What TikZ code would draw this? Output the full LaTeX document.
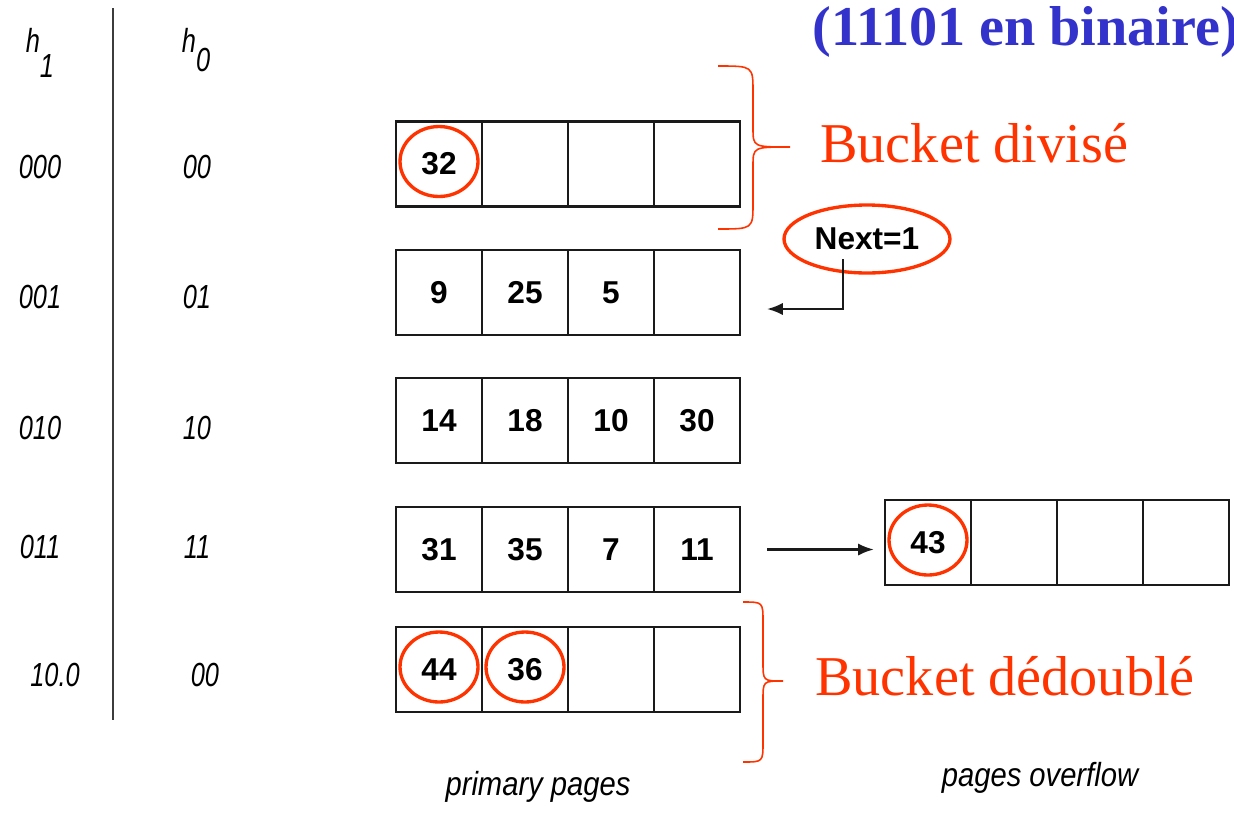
\documentclass[tikz,border=0pt]{standalone}
\usepackage{fontspec}
\setmainfont{Liberation Serif}
\setsansfont{Liberation Sans}
\usepackage{tikz}
\usetikzlibrary{shapes.geometric, arrows.meta, positioning}
\definecolor{hashred}  {HTML}{FF3300}
\definecolor{hashblue} {HTML}{3333CC}
\definecolor{gridline} {HTML}{1A1A1A}
\tikzset{
  cell/.style={
    rectangle, draw=gridline, line width=1.3pt,
    minimum width=1.72cm, minimum height=1.7cm, inner sep=0pt,
    font=\sffamily\bfseries\fontsize{18}{18}\selectfont
  },
  ring/.style={
    ellipse, draw=hashred, line width=1.9pt,
    minimum width=1.56cm, minimum height=1.4cm, inner sep=0pt
  },
  hashlbl/.style={
    font=\sffamily\itshape\fontsize{19}{19}\selectfont,
    xscale=0.76, inner sep=0pt
  },
  bigtxt/.style={font=\fontsize{32}{32}\selectfont, text=hashred, inner sep=0pt},
  accolade/.style={draw=hashred, line width=0.9pt},
  ptr/.style={-{Latex[length=9pt,width=7pt]}, line width=1.3pt, color=gridline}
}

\begin{document}
\begin{tikzpicture}[x=0.02cm, y=-0.02cm]
  \clip (0,0) rectangle (1234,812);

  % column headers
  \node[hashlbl, anchor=base] (h1) at (40,52) {h\raisebox{-14.7pt}{1}};
  \node[hashlbl, anchor=base] (h0) at (196,52) {h\raisebox{-11.3pt}{0}};
  \draw[line width=1.5pt, color=gridline!85] (113,8) -- (113,720);

  \foreach \yy/\a/\ax/\b/\bx [count=\i] in {167/000/40/00/197, 297/001/40/01/197,
      428/010/40/10/197, 547/011/40/11/197, 675/10.0/55/00/205}{
    \node[hashlbl] (bin\i) at (\ax,\yy) {\a};
    \node[hashlbl] (low\i) at (\bx,\yy) {\b};
  }

  % primary pages
  \foreach \r/\yy/\vals in {0/164/{32,{},{},{}}, 1/292.5/{9,25,5,{}},
      2/420.5/{14,18,10,30}, 3/549.5/{31,35,7,11}, 4/669.5/{44,36,{},{}}}{
    \foreach \v [count=\c] in \vals {
      \node[cell] (b\r-\c) at ({396+86*(\c-0.5)},\yy) {\v};
    }
  }

  % overflow page
  \foreach \v [count=\c] in {43,{},{},{}}{
    \node[cell] (ov-\c) at ({885+86*(\c-0.5)},542.5) {\v};
  }

  \foreach \n in {b0-1, b4-1, b4-2, ov-1}{
    \node[ring, yshift=0.05cm] (ring\n) at (\n) {};
  }

  % next pointer
  \node[ring, minimum width=3.32cm, minimum height=1.36cm,
    font=\sffamily\bfseries\fontsize{18}{18}\selectfont] (next) at (867,239) {Next=1};
  \coordinate (nexthead) at (767,309);
  \draw[ptr] ([xshift=-0.48cm,yshift=-0.4cm]next.center) |- (nexthead);

  \draw[ptr, shorten <=0.52cm, shorten >=0.2cm] (b3-4.east) -- (b3-4.east -| ov-1.west);

  % braces
  \draw[accolade] (718,66) .. controls (753,66) .. (753,92) -- (753,128)
    .. controls (753,147) .. (790,147) .. controls (753,147) .. (753,166)
    -- (753,203) .. controls (753,229) .. (718,229);
  \draw[accolade] (743,602) .. controls (763,602) .. (763,622) -- (763,662)
    .. controls (763,681) .. (783,681) .. controls (763,681) .. (763,700)
    -- (763,742) .. controls (763,762) .. (743,762);

  \node[bigtxt, anchor=base west] (divise) at (820,162) {Bucket divisé};
  \node[bigtxt, anchor=base west] (dedouble) at (815,695) {Bucket dédoublé};
  \node[bigtxt, text=hashblue, font=\bfseries\fontsize{32}{32}\selectfont,
    anchor=base west] (binaire) at (812,45) {(11101 en binaire)};

  \node[hashlbl, xscale=1.15] (primary) at (538,787) {primary pages};
  \node[hashlbl, xscale=1.15] (overflow) at (1040,778) {pages overflow};

\end{tikzpicture}
\end{document}
